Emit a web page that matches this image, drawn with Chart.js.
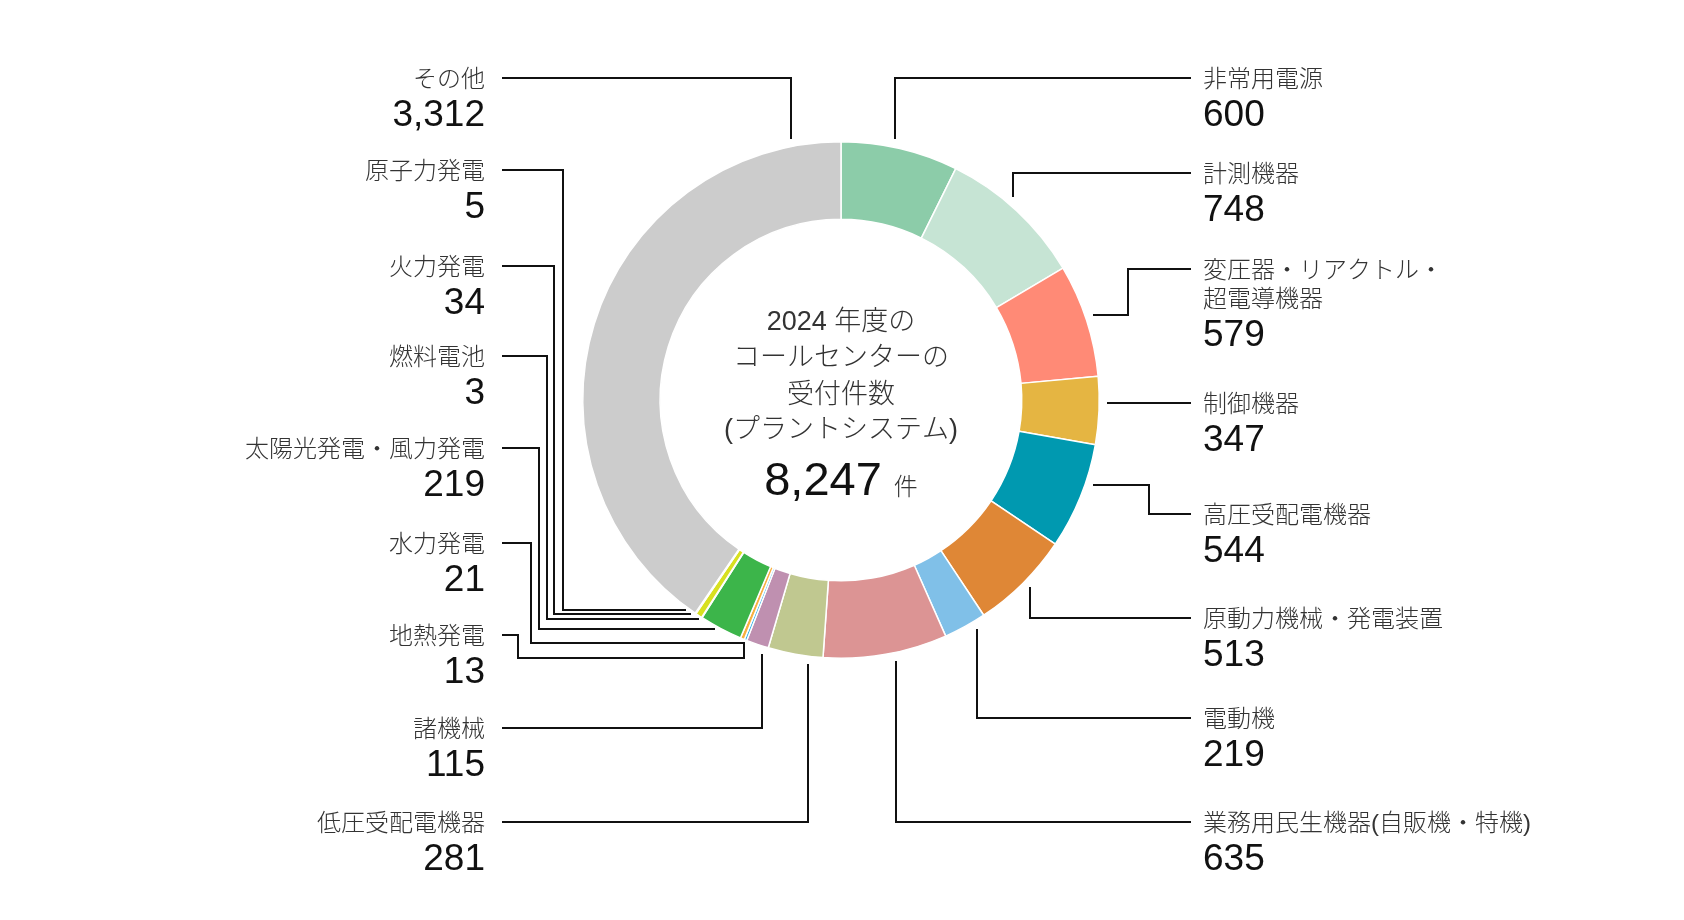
<!DOCTYPE html>
<html>
  <head>
    <meta charset="utf-8" />
    <title>コールセンター受付件数</title>
    <style>
      html, body { margin: 0; padding: 0; background: #fff; }
      #wrap { width: 1684px; height: 920px; }
    </style>
  </head>
  <body>
    <div id="wrap">
      <canvas id="donut" width="1684" height="920"></canvas>
    </div>

    <script src="https://cdn.jsdelivr.net/npm/chart.js"></script>
    <script>
      // slices, clockwise from 12 o'clock
      const categories = [
        ["非常用電源"],
        ["計測機器"],
        ["変圧器・リアクトル・", "超電導機器"],
        ["制御機器"],
        ["高圧受配電機器"],
        ["原動力機械・発電装置"],
        ["電動機"],
        ["業務用民生機器(自販機・特機)"],
        ["低圧受配電機器"],
        ["諸機械"],
        ["地熱発電"],
        ["水力発電"],
        ["太陽光発電・風力発電"],
        ["燃料電池"],
        ["火力発電"],
        ["原子力発電"],
        ["その他"],
      ];
      const counts = [600, 748, 579, 347, 544, 513, 219, 635, 281, 115, 13, 21, 219, 3, 34, 5, 3312];
      const totalLabel = "8,247";
      const centerLines = ["2024 年度の", "コールセンターの", "受付件数", "(プラントシステム)"];

      const sliceColors = [
        "#8ccca9", "#c6e4d4", "#ff8a76", "#e5b542", "#0099b0", "#df8736",
        "#80c0e8", "#dc9494", "#c0c890", "#bf90b0", "#30b0e8", "#f8b040",
        "#3cb54a", "#9030a0", "#d8e020", "#1070c0", "#cccccc",
      ];

      // where each label sits and how its leader is routed
      const leaderLayout = [
        { side: "R", y: 78, route: "v", frac: 0.44 },
        { side: "R", y: 173, route: "v", frac: 0.42 },
        { side: "R", y: 269, route: "hvh", elbow: 1128, frac: 0.48 },
        { side: "R", y: 403, route: "h" },
        { side: "R", y: 514, route: "hvh", elbow: 1149, frac: 0.36 },
        { side: "R", y: 618, route: "v", frac: 0.48 },
        { side: "R", y: 718, route: "v", frac: 0.3 },
        { side: "R", y: 822, route: "v", frac: 0.43 },
        { side: "L", y: 822, route: "v", frac: 0.25 },
        { side: "L", y: 728, route: "v", frac: 0.2 },
        { side: "L", y: 635, route: "lanev", elbow: 518, lane: 658 },
        { side: "L", y: 543, route: "lane", elbow: 531, lane: 643 },
        { side: "L", y: 448, route: "lane", elbow: 539, lane: 629 },
        { side: "L", y: 356, route: "lane", elbow: 547, lane: 619 },
        { side: "L", y: 266, route: "lane", elbow: 554, lane: 614 },
        { side: "L", y: 170, route: "lane", elbow: 563, lane: 610 },
        { side: "L", y: 78, route: "v", frac: 0.925 },
      ];

      const RIGHT_LINE_END = 1191;
      const RIGHT_TEXT_X = 1203;
      const LEFT_LINE_START = 502;
      const LEFT_TEXT_X = 485;
      const FONT = '"Liberation Sans", "Noto Sans CJK JP", sans-serif';

      function leaderPoints(el, lay) {
        const cx = el.x, cy = el.y, R = el.outerRadius;
        const f = lay.frac !== undefined ? lay.frac : 0.5;
        const a = el.startAngle + (el.endAngle - el.startAngle) * f;
        const ra = lay.route === "lanev" ? R + 4 : R + 8;
        const ax = Math.round(cx + ra * Math.cos(a));
        const ay = Math.round(cy + ra * Math.sin(a));
        const colX = lay.side === "R" ? RIGHT_LINE_END : LEFT_LINE_START;
        switch (lay.route) {
          case "v":
            return [[ax, ay], [ax, lay.y], [colX, lay.y]];
          case "h": {
            const hx = cx + Math.sqrt((R + 8) ** 2 - (lay.y - cy) ** 2);
            return [[Math.round(hx), lay.y], [colX, lay.y]];
          }
          case "hvh":
            return [[ax, ay], [lay.elbow, ay], [lay.elbow, lay.y], [colX, lay.y]];
          case "lane": {
            const r = R + 3;
            const lx = cx - Math.sqrt(r * r - (lay.lane - cy) ** 2);
            return [[colX, lay.y], [lay.elbow, lay.y], [lay.elbow, lay.lane], [Math.round(lx), lay.lane]];
          }
          case "lanev":
            return [[colX, lay.y], [lay.elbow, lay.y], [lay.elbow, lay.lane], [ax, lay.lane], [ax, ay]];
        }
        return [];
      }

      const calloutPlugin = {
        id: "callouts",
        afterDraw(chart) {
          const ctx = chart.ctx;
          const arcs = chart.getDatasetMeta(0).data;
          ctx.save();

          // leader lines
          ctx.strokeStyle = "#111";
          ctx.lineWidth = 2;
          ctx.lineJoin = "miter";
          arcs.forEach((el, i) => {
            const pts = leaderPoints(el, leaderLayout[i]);
            ctx.beginPath();
            pts.forEach((p, k) => (k ? ctx.lineTo(p[0], p[1]) : ctx.moveTo(p[0], p[1])));
            ctx.stroke();
          });

          // labels + numbers
          ctx.textBaseline = "middle";
          categories.forEach((lines, i) => {
            const lay = leaderLayout[i];
            const x = lay.side === "R" ? RIGHT_TEXT_X : LEFT_TEXT_X;
            ctx.textAlign = lay.side === "R" ? "left" : "right";
            ctx.fillStyle = "#333";
            ctx.font = "300 24px " + FONT;
            let y = lay.y + 2;
            lines.forEach((t, k) => {
              ctx.fillText(t, x, y + k * 29);
            });
            y += (lines.length - 1) * 29 + 36;
            ctx.fillStyle = "#111";
            ctx.font = "37px " + FONT;
            ctx.fillText(counts[i].toLocaleString("en-US"), x, y);
          });

          // centre text
          const cx = arcs[0].x, cy = arcs[0].y;
          ctx.textAlign = "center";
          ctx.fillStyle = "#333";
          ctx.font = "300 27px " + FONT;
          const offs = [-77, -41, -4, 31];
          centerLines.forEach((t, k) => ctx.fillText(t, cx, cy + offs[k]));

          ctx.textBaseline = "alphabetic";
          ctx.font = "47px " + FONT;
          const w1 = ctx.measureText(totalLabel).width;
          ctx.font = "300 24px " + FONT;
          const w2 = ctx.measureText("件").width;
          const gap = 12;
          const x0 = cx - (w1 + gap + w2) / 2;
          ctx.textAlign = "left";
          ctx.fillStyle = "#111";
          ctx.font = "47px " + FONT;
          ctx.fillText(totalLabel, x0, cy + 95);
          ctx.fillStyle = "#333";
          ctx.font = "300 24px " + FONT;
          ctx.fillText("件", x0 + w1 + gap, cy + 95);

          ctx.restore();
        },
      };

      const ctx = document.getElementById("donut").getContext("2d");
      new Chart(ctx, {
        type: "doughnut",
        data: {
          labels: categories.map((c) => c.join("")),
          datasets: [
            {
              data: counts,
              backgroundColor: sliceColors,
              borderColor: "#ffffff",
              borderWidth: 1.5,
            },
          ],
        },
        options: {
          responsive: false,
          animation: false,
          events: [],
          cutout: "70%",
          layout: {
            padding: { top: 141, bottom: 261, left: 582, right: 584 },
          },
          plugins: {
            legend: { display: false },
            tooltip: { enabled: false },
          },
        },
        plugins: [calloutPlugin],
      });
    </script>
  </body>
</html>
